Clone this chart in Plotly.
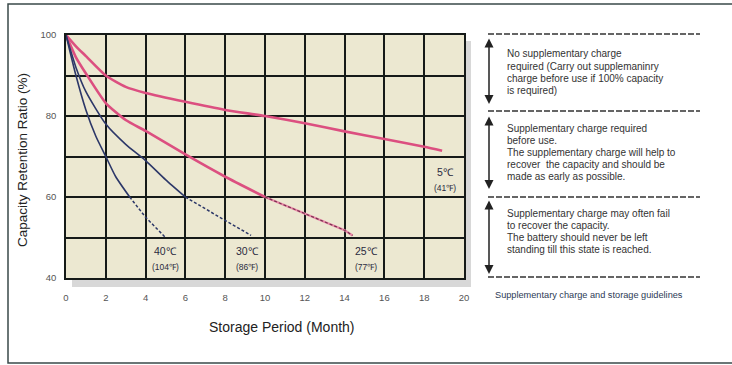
import plotly.graph_objects as go

# ---------------- data ----------------
months_5c = [0, 0.5, 1, 2, 3, 4, 6, 8, 10, 12, 14, 16, 18, 18.9]
ratio_5c = [100, 97.2, 94.8, 90, 87.2, 85.7, 83.5, 81.5, 80, 78.2, 76.2, 74.3, 72.4, 71.4]

months_25c = [0, 0.5, 1, 2, 3, 4, 6, 8, 10]
ratio_25c = [100, 94.5, 90.5, 83.2, 79, 76.3, 70.5, 65, 60]
months_25c_d = [10, 12, 14, 14.4]
ratio_25c_d = [60, 55.8, 51.8, 50.5]

months_30c = [0, 0.5, 1, 2, 3, 4, 5, 6]
ratio_30c = [100, 92, 86, 78, 73, 69, 64.3, 60]
months_30c_d = [6, 7, 8, 9, 9.3]
ratio_30c_d = [60, 57, 54.2, 51.4, 50.5]

months_40c = [0, 0.5, 1, 1.5, 2, 2.5, 3.2]
ratio_40c = [100, 90, 81.5, 75, 70, 65, 60]
months_40c_d = [3.2, 4, 5]
ratio_40c_d = [60, 55, 50]

x_ticks = [0, 2, 4, 6, 8, 10, 12, 14, 16, 18, 20]
y_grid = [40, 50, 60, 70, 80, 90, 100]
y_ticktext = ["40", "", "60", "", "80", "", "100"]

curve_labels = [
    ("40℃", "(104℉)", 5.0),
    ("30℃", "(86℉)", 9.1),
    ("25℃", "(77℉)", 15.1),
]
label_5c = ("5℃", "(41℉)", 19.05)

block1 = ["No supplementary charge", "required (Carry out supplemaninry",
          "charge before use if 100% capacity", "is required)"]
block2 = ["Supplementary charge required", "before use.",
          "The supplementary charge will help to", "recover  the capacity and should be",
          "made as early as possible."]
block3 = ["Supplementary charge may often fail", "to recover the capacity.",
          "The battery should never be left", "standing till this state is reached."]
caption = "Supplementary charge and storage guidelines"

# ---------------- layout helpers ----------------
L, R, T, B = 66, 464, 35, 278
W, H = R - L, B - T
def px(x):
    return (x - L) / W
def py(y):
    return (B - y) / H

PINK = "#dc4f80"
NAVY = "#2c3768"
FONT = "Liberation Sans, Arial, sans-serif"

fig = go.Figure()

# pink curves
fig.add_trace(go.Scatter(x=months_5c, y=ratio_5c, mode="lines",
                         line=dict(color=PINK, width=2.6, shape="spline", smoothing=0.6)))
fig.add_trace(go.Scatter(x=months_25c, y=ratio_25c, mode="lines",
                         line=dict(color=PINK, width=2.6, shape="spline", smoothing=0.6)))
fig.add_trace(go.Scatter(x=months_25c_d, y=ratio_25c_d, mode="lines",
                         line=dict(color="#e88aa8", width=2.4)))
fig.add_trace(go.Scatter(x=months_25c_d, y=ratio_25c_d, mode="lines",
                         line=dict(color="#7a3050", width=1.2, dash="3px,2px")))
# navy curves
fig.add_trace(go.Scatter(x=months_30c, y=ratio_30c, mode="lines",
                         line=dict(color=NAVY, width=1.6, shape="spline", smoothing=0.6)))
fig.add_trace(go.Scatter(x=months_30c_d, y=ratio_30c_d, mode="lines",
                         line=dict(color=NAVY, width=1.5, dash="3px,2px")))
fig.add_trace(go.Scatter(x=months_40c, y=ratio_40c, mode="lines",
                         line=dict(color=NAVY, width=1.6, shape="spline", smoothing=0.6)))
fig.add_trace(go.Scatter(x=months_40c_d, y=ratio_40c_d, mode="lines",
                         line=dict(color=NAVY, width=1.5, dash="3px,2px")))

annotations = []
shapes = []

# curve labels
def y_from_px(p):
    return 40 + (B - p) / H * 60

for top, bot, xv in curve_labels + [label_5c]:
    ytop = 251 if xv < 19 else 172
    annotations.append(dict(x=xv, y=y_from_px(ytop), xref="x", yref="y", text=top,
                            xanchor="center", yanchor="middle", showarrow=False,
                            font=dict(size=10.5, color="#2a2a40", family=FONT)))
    annotations.append(dict(x=xv, y=y_from_px(ytop + 16), xref="x", yref="y", text=bot,
                            xanchor="center", yanchor="middle", showarrow=False,
                            font=dict(size=8.5, color="#2a2a40", family=FONT)))

# axis titles
annotations.append(dict(x=px(22), y=py(160), xref="paper", yref="paper",
                        text="Capacity Retention Ratio (%)", textangle=-90, showarrow=False,
                        xanchor="center", yanchor="middle",
                        font=dict(size=13.5, color="#222", family=FONT)))
annotations.append(dict(x=px(282), y=py(327), xref="paper", yref="paper",
                        text="Storage Period (Month)", showarrow=False,
                        xanchor="center", yanchor="middle",
                        font=dict(size=14, color="#222", family=FONT)))

# right-side guideline text
def add_block(lines, ys):
    for t, yy in zip(lines, ys):
        annotations.append(dict(x=px(505), y=py(yy), xref="paper", yref="paper", text=t,
                                xanchor="left", yanchor="middle", showarrow=False,
                                font=dict(size=10, color="#333", family=FONT)))

add_block(block1, [53, 66, 79, 91])
add_block(block2, [128, 140, 152, 164, 176])
add_block(block3, [213, 225, 237, 249])
annotations.append(dict(x=px(493), y=py(295), xref="paper", yref="paper", text=caption,
                        xanchor="left", yanchor="middle", showarrow=False,
                        font=dict(size=9.2, color="#2c3a55", family=FONT)))

# double arrows
for y0, y1 in [(37, 104), (115, 189), (199, 274)]:
    annotations.append(dict(x=px(489), y=py(y1), xref="paper", yref="paper", text="",
                            ax=0, ay=-(y1 - y0), axref="pixel", ayref="pixel",
                            showarrow=True, arrowhead=2, arrowsize=1.2, arrowwidth=1.5,
                            arrowside="end+start", arrowcolor="#222"))

# dashed divider lines
for yy in [34, 111, 197, 277]:
    shapes.append(dict(type="line", xref="paper", yref="paper",
                       x0=px(488), x1=px(700), y0=py(yy), y1=py(yy),
                       line=dict(color="#333", width=1.5, dash="6px,2px")))

# plot shadow
shapes.append(dict(type="rect", xref="paper", yref="paper", layer="below",
                   x0=px(72), x1=px(471), y0=py(287), y1=py(278),
                   fillcolor="#d8d8d8", line=dict(width=0)))
shapes.append(dict(type="rect", xref="paper", yref="paper", layer="below",
                   x0=px(464), x1=px(471), y0=py(287), y1=py(41),
                   fillcolor="#d8d8d8", line=dict(width=0)))

# outer frame
shapes.append(dict(type="rect", xref="paper", yref="paper",
                   x0=px(8), x1=px(745), y0=py(363), y1=py(4),
                   line=dict(color="#3a4a4a", width=1.5)))

fig.update_layout(
    width=732, height=365,
    margin=dict(l=L, r=732 - R, t=T, b=365 - B),
    paper_bgcolor="white",
    plot_bgcolor="#ece8d1",
    showlegend=False,
    annotations=annotations,
    shapes=shapes,
    font=dict(family=FONT),
)
fig.update_xaxes(range=[0, 20], tickvals=x_ticks, ticktext=[str(v) for v in x_ticks],
                 showgrid=True, gridcolor="#151a18", gridwidth=1.5,
                 zeroline=False, showline=True, linecolor="#151a18", linewidth=1.5, mirror=True,
                 ticks="outside", ticklen=10, tickcolor="rgba(0,0,0,0)",
                 tickfont=dict(size=9.5, color="#555", family=FONT))
fig.update_yaxes(range=[40, 100], tickvals=y_grid, ticktext=y_ticktext,
                 showgrid=True, gridcolor="#151a18", gridwidth=1.5,
                 zeroline=False, showline=True, linecolor="#151a18", linewidth=1.5, mirror=True,
                 ticks="outside", ticklen=6, tickcolor="rgba(0,0,0,0)",
                 tickfont=dict(size=9.5, color="#555", family=FONT))

fig.write_html("out.html", config={"displayModeBar": False},
               post_script="document.body.style.margin='0';")
